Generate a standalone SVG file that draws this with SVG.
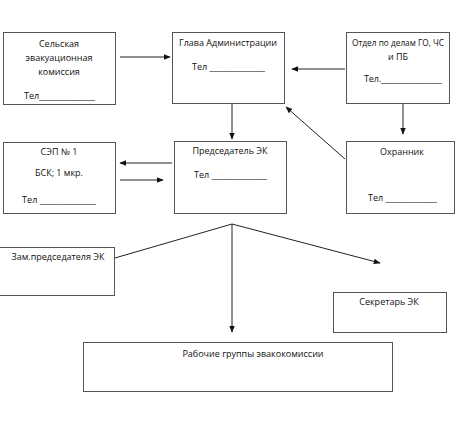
<svg xmlns="http://www.w3.org/2000/svg" width="460" height="423" viewBox="0 0 460 423">
<style>
.box{fill:#fff;stroke:#555;stroke-width:1}
.t{font-family:"Open Sans","Liberation Sans",sans-serif;font-size:9px;fill:#111}
.m{text-anchor:middle}
.c{stroke:#222;stroke-width:1;fill:none;marker-end:url(#ah)}
</style>
<defs>
<marker id="ah" viewBox="0 0 10 10" refX="9" refY="5" markerWidth="7" markerHeight="7" markerUnits="userSpaceOnUse" orient="auto">
<path d="M0,1 L10,5 L0,9 z" fill="#111"/>
</marker>
</defs>
<rect width="460" height="423" fill="#fff"/>
<g id="connectors">
<line class="c" x1="120" y1="57" x2="170" y2="57"/>
<line class="c" x1="345" y1="69" x2="292" y2="69"/>
<line class="c" x1="403" y1="104" x2="403" y2="134"/>
<line class="c" x1="232" y1="104" x2="232" y2="139"/>
<line class="c" x1="345" y1="159" x2="286" y2="107"/>
<line class="c" x1="172" y1="163" x2="120" y2="163"/>
<line class="c" x1="120" y1="180" x2="163" y2="180"/>
<line class="c" x1="232" y1="224" x2="77" y2="269"/>
<line class="c" x1="232" y1="224" x2="380" y2="263"/>
<line class="c" x1="232" y1="224" x2="232" y2="332"/>
</g>
<g id="n1">
<rect class="box" x="3.5" y="32.5" width="112" height="72"/>
<text class="t m" x="59" y="47">Сельская</text>
<text class="t m" x="59" y="61">эвакуационная</text>
<text class="t m" x="59" y="75">комиссия</text>
<text class="t" x="24" y="99" textLength="71" lengthAdjust="spacing">Тел______________</text>
</g>
<g id="n2">
<rect class="box" x="172.5" y="32.5" width="112" height="71"/>
<text class="t m" x="228" y="46">Глава Администрации</text>
<text class="t" x="192" y="70" textLength="73" lengthAdjust="spacing">Тел ______________</text>
</g>
<g id="n3">
<rect class="box" x="346.5" y="32.5" width="103" height="71"/>
<text class="t m" x="398" y="46" textLength="92" lengthAdjust="spacingAndGlyphs">Отдел по делам ГО, ЧС</text>
<text class="t m" x="398" y="60">и ПБ</text>
<text class="t" x="364" y="82" textLength="78" lengthAdjust="spacing">Тел.________________</text>
</g>
<g id="n4">
<rect class="box" x="3.5" y="142.5" width="112" height="71"/>
<text class="t m" x="59" y="155">СЭП № 1</text>
<text class="t m" x="59" y="176">БСК; 1 мкр.</text>
<text class="t" x="22" y="203" textLength="74" lengthAdjust="spacing">Тел ______________</text>
</g>
<g id="n5">
<rect class="box" x="174.5" y="141.5" width="112" height="72"/>
<text class="t m" x="230" y="154">Председатель ЭК</text>
<text class="t" x="194" y="178" textLength="73" lengthAdjust="spacing">Тел ______________</text>
</g>
<g id="n6">
<rect class="box" x="346.5" y="141.5" width="108" height="72"/>
<text class="t m" x="402" y="155">Охранник</text>
<text class="t" x="368" y="201" textLength="69" lengthAdjust="spacing">Тел _____________</text>
</g>
<g id="n7">
<rect class="box" x="-0.5" y="247.5" width="115" height="48"/>
<text class="t m" x="58" y="260">Зам.председателя ЭК</text>
</g>
<g id="n8">
<rect class="box" x="333.5" y="292.5" width="113" height="40"/>
<text class="t m" x="389" y="305">Секретарь ЭК</text>
</g>
<g id="n9">
<rect class="box" x="83.5" y="342.5" width="309" height="49"/>
<text class="t m" x="253" y="357">Рабочие группы эвакокомиссии</text>
</g>
</svg>
